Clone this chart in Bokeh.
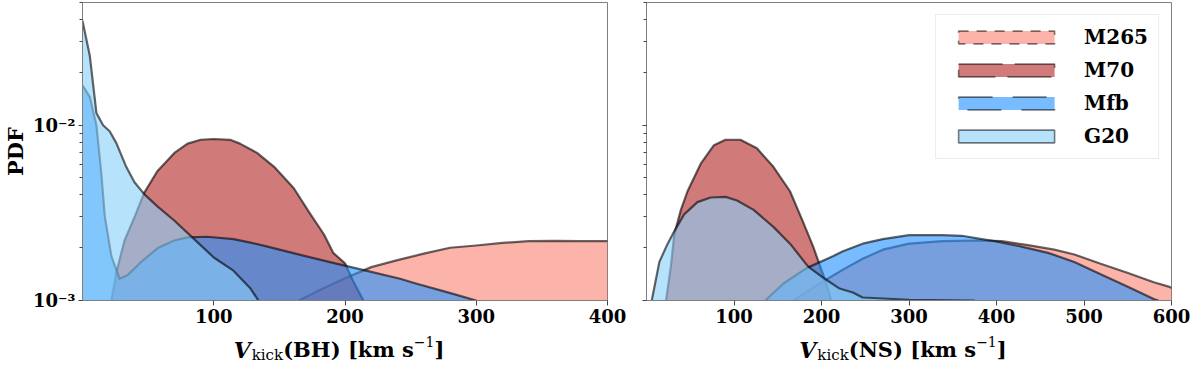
import subprocess
import numpy as np
from bokeh.plotting import figure
from bokeh.models import Range1d, FixedTicker, Label, Legend, LegendItem, ColumnDataSource
from bokeh.layouts import row, column
from bokeh.embed import file_html
from bokeh.resources import INLINE

# ---------------- data ----------------
series = ["M265", "M70", "Mfb", "G20"]
colors = ["#FA8072", "#B22222", "#1E90FF", "#87CEFA"]
legend_dash = ["10 8", "44 12", "34 20", "solid"]

# BH kicks
bh_m265_x = [165, 180, 200, 220, 240, 260, 280, 300, 320, 340, 360, 380, 400]
bh_m265_y = [0.00100, 0.00114, 0.00134, 0.00155, 0.00170, 0.00185, 0.00200, 0.00206,
             0.00213, 0.00218, 0.00219, 0.00218, 0.00218]

bh_m70_x = [22, 26, 32, 40, 47, 57, 70, 80, 90, 100, 113, 120, 133, 146, 161, 173, 184,
            191, 200, 206, 214]
bh_m70_y = [0.00100, 0.00147, 0.00220, 0.00304, 0.00411, 0.00546, 0.00695, 0.00785,
            0.00826, 0.00834, 0.00824, 0.00785, 0.00695, 0.00579, 0.00437, 0.00316,
            0.00238, 0.00187, 0.00163, 0.00130, 0.00100]

bh_mfb_x = [0, 5.6, 10.6, 14.4, 17, 22, 28.3, 34.6, 44.7, 57.3, 69.9, 80, 95, 115, 128,
            141, 166, 191, 216, 242, 254, 277, 300]
bh_mfb_y = [0.0169, 0.0145, 0.0100, 0.00525, 0.00302, 0.00179, 0.00133, 0.00140, 0.00166,
            0.00199, 0.00220, 0.00229, 0.00231, 0.00224, 0.00214, 0.00203, 0.00182,
            0.00164, 0.00148, 0.00133, 0.00125, 0.00112, 0.00100]

bh_g20_x = [0, 5.6, 10.6, 15.7, 20.7, 25.8, 33.3, 39.6, 47.2, 57.3, 69.9, 82.6, 100,
            115, 128, 134]
bh_g20_y = [0.0394, 0.0248, 0.01175, 0.0100, 0.00923, 0.00790, 0.00579, 0.00473, 0.00403,
            0.00343, 0.00286, 0.00233, 0.00176, 0.00148, 0.00117, 0.00100]

# NS kicks
ns_m265_x = [168, 198, 224.5, 247, 270, 300, 338, 375.6, 406, 436, 466, 489, 519, 549.5,
             579.7, 596.8, 600]
ns_m265_y = [0.00100, 0.00125, 0.00150, 0.00173, 0.00195, 0.00211, 0.00218, 0.00220,
             0.00218, 0.00207, 0.00195, 0.00183, 0.00162, 0.00144, 0.00127, 0.00120, 0.00118]

ns_m70_x = [22.3, 28, 31.7, 39.3, 46.9, 62, 77.1, 90.3, 107.3, 126.2, 145, 164, 179,
            190.5, 198, 205.6, 211]
ns_m70_y = [0.00100, 0.00159, 0.00238, 0.00329, 0.00420, 0.00603, 0.00769, 0.00826,
            0.00826, 0.00738, 0.00579, 0.00420, 0.00280, 0.00203, 0.00159, 0.00125, 0.00100]

ns_mfb_x = [135.7, 156.5, 182.9, 213, 224.5, 247, 270, 300, 338, 360.5, 383, 398, 428.6,
            459, 489, 519, 549.5, 579.7, 585]
ns_mfb_y = [0.00100, 0.00125, 0.00153, 0.00179, 0.00191, 0.00211, 0.00224, 0.00236,
            0.00236, 0.00234, 0.00224, 0.00218, 0.00203, 0.00187, 0.00166, 0.00141,
            0.00120, 0.00102, 0.00100]

ns_g20_x = [6, 14.7, 24.2, 31.7, 43, 58.2, 73.3, 90.3, 103.5, 122.4, 145, 164, 184.8,
            203.7, 220.7, 235.8, 247, 300, 375]
ns_g20_y = [0.00100, 0.00166, 0.00211, 0.00248, 0.00310, 0.00364, 0.00387, 0.00390,
            0.00372, 0.00329, 0.00263, 0.00211, 0.00156, 0.00133, 0.00117, 0.00111,
            0.00104, 0.00101, 0.00100]

bh_xticks = [100, 200, 300, 400]
ns_xticks = [100, 200, 300, 400, 500, 600]
y_major = [0.001, 0.01]
y_major_labels = ["10\u207b\u00b3", "10\u207b\u00b2"]
y_minor = [0.002, 0.003, 0.004, 0.005, 0.006, 0.007, 0.008, 0.009, 0.02, 0.03, 0.04, 0.05]

Y_BOTTOM = 1e-3
Y_TOP = 10 ** (-1.3)

SERIF = "DejaVu Serif"
FRAME_H = 298
STRIP_H = 34

# ---------------- text measurement ----------------
_font_cache = {}


def text_width(txt, spec, size, em=0.68):
    try:
        from PIL import ImageFont
        if spec not in _font_cache:
            path = subprocess.run(["fc-match", "-f", "%{file}", spec], capture_output=True,
                                  text=True, timeout=10).stdout.strip()
            _font_cache[spec] = path
        f = ImageFont.truetype(_font_cache[spec], size)
        return float(f.getlength(txt))
    except Exception:
        return em * size * len(txt)


def make_strip(x_range, frame_w, border_l, border_r, xc, inner):
    s = figure(frame_width=frame_w, frame_height=STRIP_H, x_range=x_range,
               y_range=Range1d(0, STRIP_H), output_backend="svg", toolbar_location=None,
               x_axis_location=None, y_axis_location=None,
               min_border_left=border_l, min_border_right=border_r,
               min_border_top=0, min_border_bottom=0)
    s.outline_line_color = None
    for g in s.grid:
        g.visible = False
    pieces = [
        ("V", "DejaVu Serif:bold:italic", 22, "bold italic", 0),
        ("kick", "DejaVu Serif", 15, "normal", -5),
        ("(" + inner + ") [km s", "DejaVu Serif:bold", 21, "bold", 0),
        ("\u22121", "DejaVu Serif", 14, "normal", 8),
        ("]", "DejaVu Serif:bold", 21, "bold", 0),
    ]
    widths = [text_width(t, sp, z) for t, sp, z, _, _ in pieces]
    widths[0] += 1
    total = sum(widths)
    cur = -total / 2.0
    base = 13
    for (t, sp, z, st, dy), w in zip(pieces, widths):
        s.add_layout(Label(x=xc, y=base + dy, x_units="data", y_units="data",
                           x_offset=cur, text=t,
                           text_font=SERIF, text_font_size=f"{z}px", text_font_style=st,
                           text_color="black", text_align="left",
                           text_baseline="alphabetic"))
        cur += w
    return s


def make_fig(xmax, xticks, frame_w, border_l, border_r, show_ylabels):
    p = figure(frame_width=frame_w, frame_height=FRAME_H, y_axis_type="log",
               x_range=Range1d(0, xmax), y_range=Range1d(Y_BOTTOM, Y_TOP),
               output_backend="svg", toolbar_location=None,
               min_border_left=border_l, min_border_right=border_r,
               min_border_top=2, min_border_bottom=28)
    p.grid.visible = False
    p.outline_line_color = "#7f7f7f"
    p.outline_line_width = 1
    p.background_fill_color = "white"
    p.border_fill_color = "white"

    p.xaxis.ticker = FixedTicker(ticks=xticks)
    p.xaxis.major_tick_out = 5
    p.xaxis.major_tick_in = 0
    p.xaxis.minor_tick_out = 0
    p.xaxis.minor_tick_in = 0
    p.xaxis.major_label_standoff = 3
    p.xaxis.major_label_text_font = SERIF
    p.xaxis.major_label_text_font_style = "bold"
    p.xaxis.major_label_text_font_size = "18px"
    p.xaxis.major_label_text_color = "black"

    p.yaxis.ticker = FixedTicker(ticks=y_major, minor_ticks=y_minor)
    p.yaxis.major_tick_out = 4
    p.yaxis.major_tick_in = 0
    p.yaxis.minor_tick_out = 3
    p.yaxis.minor_tick_in = 0
    p.yaxis.major_label_standoff = 3
    p.yaxis.major_label_text_font = SERIF
    p.yaxis.major_label_text_font_style = "bold"
    p.yaxis.major_label_text_font_size = "18px"
    p.yaxis.major_label_text_color = "black"
    if show_ylabels:
        p.yaxis.major_label_overrides = {v: t for v, t in zip(y_major, y_major_labels)}
        p.yaxis.axis_label = "PDF"
        p.yaxis.axis_label_text_font = SERIF
        p.yaxis.axis_label_text_font_style = "bold"
        p.yaxis.axis_label_text_font_size = "21px"
        p.yaxis.axis_label_text_color = "black"
        p.yaxis.axis_label_standoff = 2
    else:
        p.yaxis.major_label_overrides = {v: "" for v in y_major}
        p.yaxis.major_label_standoff = 0

    for ax in (p.xaxis, p.yaxis):
        ax.axis_line_color = "#7f7f7f"
        ax.major_tick_line_color = "#444444"
        ax.minor_tick_line_color = "#444444"
    return p


def draw_series(p, xs, ys):
    for x, y, c in zip(xs, ys, colors):
        src = ColumnDataSource(dict(x=x, y=y, y0=[1e-4] * len(x)))
        p.varea(x="x", y1="y0", y2="y", source=src, fill_color=c, fill_alpha=0.6)
        p.line(x="x", y="y", source=src, line_color="black", line_alpha=0.6,
               line_width=2.2, line_join="round")


L_BORDER, L_RIGHT, L_FRAME = 76, 24, 525
R_BORDER, R_RIGHT, R_FRAME = 15, 19, 525

p1 = make_fig(400, bh_xticks, L_FRAME, L_BORDER, L_RIGHT, True)
draw_series(p1, [bh_m265_x, bh_m70_x, bh_mfb_x, bh_g20_x],
            [bh_m265_y, bh_m70_y, bh_mfb_y, bh_g20_y])

p2 = make_fig(600, ns_xticks, R_FRAME, R_BORDER, R_RIGHT, False)
draw_series(p2, [ns_m265_x, ns_m70_x, ns_mfb_x, ns_g20_x],
            [ns_m265_y, ns_m70_y, ns_mfb_y, ns_g20_y])

# legend keys (NaN quads: not drawn in the plot, only used as legend symbols)
items = []
for name, c, d in zip(series, colors, legend_dash):
    ksrc = ColumnDataSource(dict(l=[np.nan], r=[np.nan], t=[np.nan], b=[np.nan]))
    r = p2.quad(left="l", right="r", top="t", bottom="b", source=ksrc, fill_color=c,
                fill_alpha=0.6, line_color="black", line_alpha=0.5, line_width=1.6,
                line_dash=d)
    items.append(LegendItem(label=name, renderers=[r]))

legend = Legend(items=items, location="top_right")
legend.glyph_width = 120
legend.glyph_height = 16
legend.label_text_font = SERIF
legend.label_text_font_style = "bold"
legend.label_text_font_size = "20px"
legend.label_text_color = "black"
legend.label_standoff = 18
legend.label_height = 24
legend.spacing = 9
legend.padding = 10
legend.margin = 12
legend.border_line_color = "#d8d8d8"
legend.border_line_width = 1
legend.background_fill_color = "white"
legend.background_fill_alpha = 0.8
p2.add_layout(legend)

s1 = make_strip(p1.x_range, L_FRAME, L_BORDER, L_RIGHT, 200, "BH")
s2 = make_strip(p2.x_range, R_FRAME, R_BORDER, R_RIGHT, 300, "NS")

layout = column(row(p1, p2), row(s1, s2))
open("out.html", "w").write(file_html(layout, INLINE))
